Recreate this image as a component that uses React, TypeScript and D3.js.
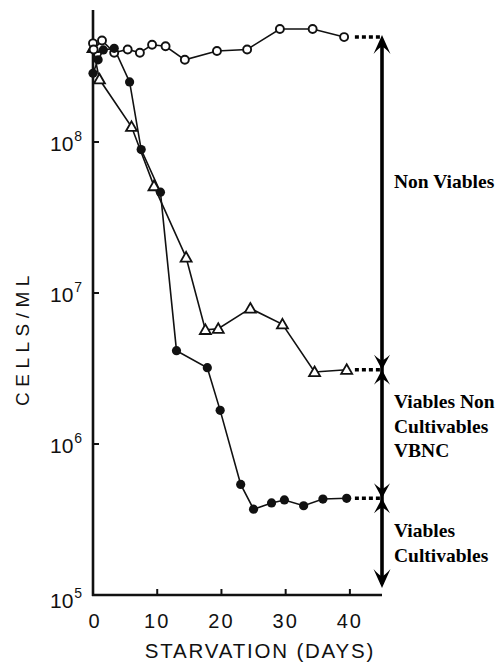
import React from "react";
import * as d3 from "d3";

// Total cells (open circles)
const totalDays = [0, 0.1, 1.4, 3.3, 5.4, 7.3, 9.2, 11.3, 14.3, 19.3, 24.0, 29.1, 34.2, 39.1];
const totalCells = [4.5e8, 4.1e8, 4.7e8, 3.9e8, 4.1e8, 3.9e8, 4.4e8, 4.3e8, 3.5e8, 4.0e8, 4.1e8, 5.6e8, 5.6e8, 4.95e8];

// Viable cells (open triangles)
const viableDays = [0, 1, 6, 9.5, 14.5, 17.5, 19.5, 24.5, 29.5, 34.5, 39.5];
const viableCells = [4.2e8, 2.6e8, 1.26e8, 5.1e7, 1.72e7, 5.7e6, 5.8e6, 7.9e6, 6.2e6, 3.0e6, 3.1e6];

// Culturable cells (filled circles)
const cultDays = [0, 0.8, 1.6, 3.3, 5.7, 7.5, 10.5, 13, 17.8, 19.8, 23, 25, 27.8, 29.8, 32.8, 35.8, 39.5];
const cultCells = [2.85e8, 3.5e8, 4.07e8, 4.17e8, 2.5e8, 8.9e7, 4.65e7, 4.15e6, 3.2e6, 1.67e6, 5.4e5, 3.7e5, 4.07e5, 4.26e5, 3.9e5, 4.32e5, 4.37e5];

const xTicks = [0, 10, 20, 30, 40];
const yTicks = [1e5, 1e6, 1e7, 1e8];
const yExponents = ["5", "6", "7", "8"];
const xLabel = "STARVATION (DAYS)";
const yLabel = "CELLS/ML";
const zoneNonViable = ["Non Viables"];
const zoneVBNC = ["Viables Non", "Cultivables", "VBNC"];
const zoneCult = ["Viables", "Cultivables"];

const sansFont = "'Liberation Sans', Arial, sans-serif";
const serifFont = "'Liberation Serif', 'Times New Roman', serif";

function arrowHead(tx: number, ty: number, dir: number, len = 16, hw = 8.5) {
  // dir = -1: points up, +1: points down
  const b = ty - dir * len;
  const n = ty - dir * len * 0.62;
  return `M${tx},${ty} L${tx - hw},${b} Q${tx - 3},${n - dir * 1} ${tx},${n} Q${tx + 3},${n - dir * 1} ${tx + hw},${b} Z`;
}

export default function App() {
  const W = 500;
  const H = 664;
  const x = d3.scaleLinear().domain([0, 45]).range([93, 382]);
  const y = d3.scaleLog().domain([1e5, Math.pow(10, 8.874)]).range([595, 10]);

  const line = d3
    .line<[number, number]>()
    .x((d) => x(d[0]))
    .y((d) => y(d[1]));

  const totalPts: [number, number][] = totalDays.map((d, i) => [d, totalCells[i]]);
  const viablePts: [number, number][] = viableDays.map((d, i) => [d, viableCells[i]]);
  const cultPts: [number, number][] = cultDays.map((d, i) => [d, cultCells[i]]);

  const ax = x(45);
  const topY = y(totalCells[totalCells.length - 1]);
  const midY = y(viableCells[viableCells.length - 1]);
  const lowY = y(cultCells[cultCells.length - 1]);
  const botY = 588;

  const tri = (cx: number, cy: number) => {
    const s = 5.5;
    return `M${cx},${cy - s} L${cx + s},${cy + s * 0.75} L${cx - s},${cy + s * 0.75} Z`;
  };

  return (
    <svg
      width={W}
      height={H}
      viewBox={`0 0 ${W} ${H}`}
      style={{ position: "absolute", left: 0, top: 0, background: "#fff" }}
    >
      <rect x={0} y={0} width={W} height={H} fill="#fff" />
      {/* Axes */}
      <line x1={x(0)} y1={10} x2={x(0)} y2={y(1e5) + 1} stroke="#111" strokeWidth={2.6} />
      <line x1={x(0) - 1} y1={y(1e5)} x2={ax} y2={y(1e5)} stroke="#111" strokeWidth={2.6} />
      {yTicks.slice(1).map((t) => (
        <line key={t} x1={x(0)} x2={x(0) + 6} y1={y(t)} y2={y(t)} stroke="#111" strokeWidth={2} />
      ))}
      {xTicks.slice(1).map((t) => (
        <line key={t} x1={x(t)} x2={x(t)} y1={y(1e5)} y2={y(1e5) - 6} stroke="#111" strokeWidth={2} />
      ))}
      {/* Y tick labels */}
      {yTicks.map((t, i) => (
        <text
          key={t}
          x={50}
          y={y(t) + (i === 0 ? 13 : 9)}
          fontFamily={sansFont}
          fontSize={21}
          fill="#111"
        >
          10
          <tspan fontSize={14} dy={-10} dx={1}>
            {yExponents[i]}
          </tspan>
        </text>
      ))}
      {/* X tick labels */}
      {xTicks.map((t) => (
        <text
          key={t}
          x={x(t) + (t === 0 ? 2 : 0)}
          y={628}
          textAnchor="middle"
          fontFamily={sansFont}
          fontSize={20}
          letterSpacing={2}
          fill="#111"
        >
          {t}
        </text>
      ))}
      <text
        x={260}
        y={658}
        textAnchor="middle"
        fontFamily={sansFont}
        fontSize={20.5}
        letterSpacing={1.8}
        fill="#111"
      >
        {xLabel}
      </text>
      <text
        transform={`translate(29,338) rotate(-90)`}
        textAnchor="middle"
        fontFamily={sansFont}
        fontSize={19}
        letterSpacing={5.5}
        fill="#111"
      >
        {yLabel}
      </text>

      {/* Series lines */}
      <path d={line(totalPts) || ""} fill="none" stroke="#111" strokeWidth={1.6} />
      <path d={line(viablePts) || ""} fill="none" stroke="#111" strokeWidth={1.6} />
      <path d={line(cultPts) || ""} fill="none" stroke="#111" strokeWidth={1.6} />

      {/* Markers */}
      {viablePts.map((p, i) => (
        <path key={"v" + i} d={tri(x(p[0]), y(p[1]))} fill="#fff" stroke="#111" strokeWidth={1.8} />
      ))}
      {totalPts.map((p, i) => (
        <circle key={"t" + i} cx={x(p[0])} cy={y(p[1])} r={4} fill="#fff" stroke="#111" strokeWidth={1.9} />
      ))}
      {cultPts.map((p, i) => (
        <circle key={"c" + i} cx={x(p[0])} cy={y(p[1])} r={4.6} fill="#111" />
      ))}

      {/* Dotted leaders */}
      {[topY, midY, lowY].map((yy, i) => (
        <line
          key={"d" + i}
          x1={x(40) + 5}
          x2={ax - 2}
          y1={yy}
          y2={yy}
          stroke="#000"
          strokeWidth={3.5}
          strokeDasharray="4,3"
        />
      ))}

      {/* Annotation arrow */}
      <line x1={ax} x2={ax} y1={topY + 4} y2={botY - 4} stroke="#000" strokeWidth={3.6} />
      <path d={arrowHead(ax, topY - 2, -1, 19, 8.5)} fill="#000" />
      <path d={arrowHead(ax, midY, 1, 15, 8)} fill="#000" />
      <path d={arrowHead(ax, midY, -1, 15, 8)} fill="#000" />
      <path d={arrowHead(ax, lowY, 1, 15, 8)} fill="#000" />
      <path d={arrowHead(ax, lowY, -1, 15, 8)} fill="#000" />
      <path d={arrowHead(ax, botY, 1, 19, 8.5)} fill="#000" />

      {/* Zone labels */}
      {zoneNonViable.map((s, i) => (
        <text key={"n" + i} x={394} y={188 + i * 24.5} fontFamily={serifFont} fontWeight="bold" fontSize={19.5} fill="#000">
          {s}
        </text>
      ))}
      {zoneVBNC.map((s, i) => (
        <text key={"b" + i} x={394} y={408 + i * 24.5} fontFamily={serifFont} fontWeight="bold" fontSize={19.5} fill="#000">
          {s}
        </text>
      ))}
      {zoneCult.map((s, i) => (
        <text key={"c" + i} x={394} y={537 + i * 24.5} fontFamily={serifFont} fontWeight="bold" fontSize={19.5} fill="#000">
          {s}
        </text>
      ))}
    </svg>
  );
}
